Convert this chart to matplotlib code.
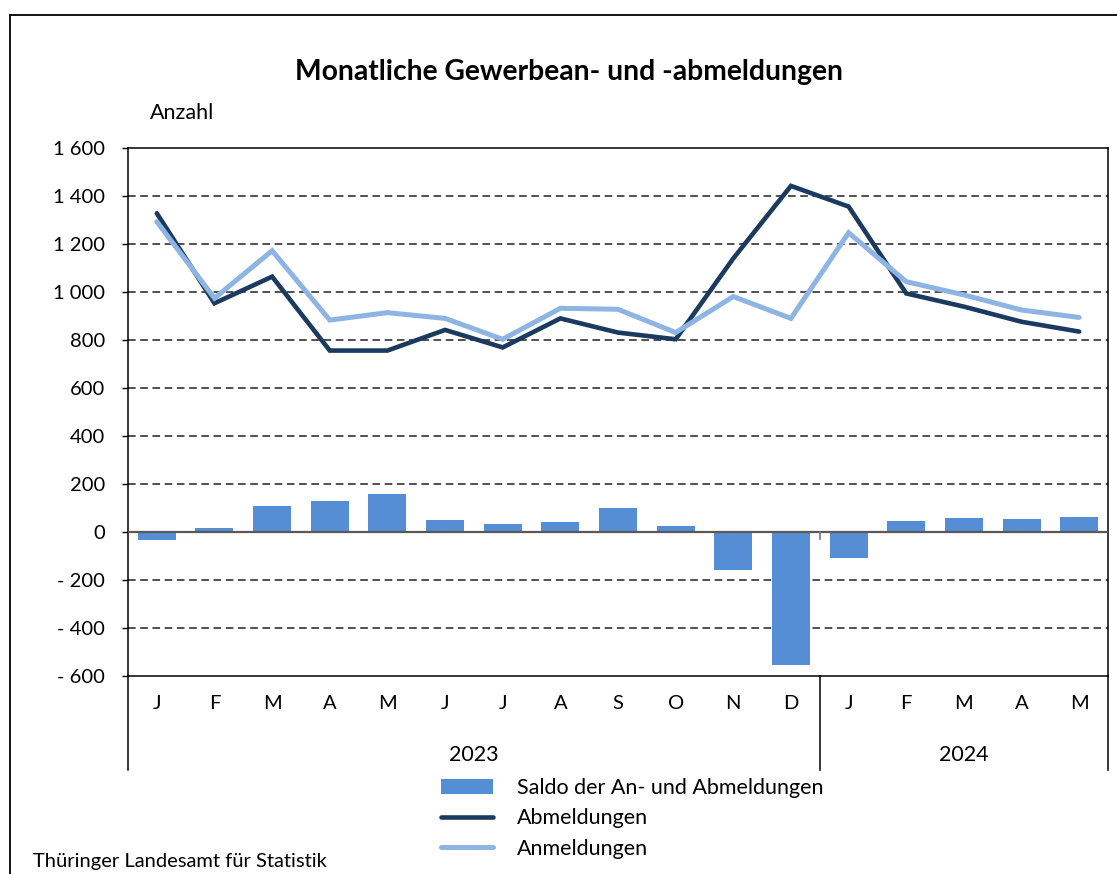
import matplotlib
matplotlib.use("Agg")
import matplotlib.pyplot as plt
from matplotlib.ticker import FixedLocator, FuncFormatter
from matplotlib.patches import Patch
from matplotlib.lines import Line2D
import matplotlib.transforms as mtrans

plt.rcParams['font.family'] = ['Lato', 'DejaVu Sans']

months = ["J", "F", "M", "A", "M", "J", "J", "A", "S", "O", "N", "D",
          "J", "F", "M", "A", "M"]
years = ["2023", "2024"]
months_per_year = [12, 5]

abmeldungen = [1328, 953, 1064, 756, 756, 842, 769, 890, 831, 803, 1140, 1442,
               1356, 994, 939, 876, 835]
anmeldungen = [1293, 974, 1172, 883, 914, 890, 803, 932, 928, 831, 981, 890,
               1247, 1043, 988, 925, 894]
saldo = [-35, 15, 108, 128, 158, 49, 32, 40, 101, 25, -160, -553,
         -110, 47, 57, 53, 61]

title = "Monatliche Gewerbean- und -abmeldungen"
y_label = "Anzahl"
source = "Thüringer Landesamt für Statistik"
legend_labels = ["Saldo der An- und Abmeldungen", "Abmeldungen", "Anmeldungen"]

c_bar = "#558ED5"
c_ab = "#1B3A5F"
c_an = "#8DB4E2"

W, H = 1117, 874
fig = plt.figure(figsize=(W / 100, H / 100), dpi=100)

# outer frame
fig.add_artist(Line2D([10 / W, 10 / W], [0, 1 - 15 / H], transform=fig.transFigure,
                      color="black", lw=1.3))
fig.add_artist(Line2D([10 / W, 1], [1 - 15 / H, 1 - 15 / H], transform=fig.transFigure,
                      color="black", lw=1.3))

x0, x1, ytop, ybot = 128, 1108, 148, 676
ax = fig.add_axes([x0 / W, 1 - ybot / H, (x1 - x0) / W, (ybot - ytop) / H])

x = list(range(len(months)))
ax.bar(x, saldo, width=0.66, color=c_bar, zorder=2)
ax.axhline(0, color="#595959", lw=1.6, zorder=3)
ax.plot(x, abmeldungen, color=c_ab, lw=3.3, zorder=4, solid_capstyle="round", solid_joinstyle="miter")
ax.plot(x, anmeldungen, color=c_an, lw=3.6, zorder=5, solid_capstyle="round", solid_joinstyle="miter")

ax.set_xlim(-0.5, len(months) - 0.5)
ax.set_ylim(-600, 1600)
yt = list(range(-600, 1601, 200))
ax.yaxis.set_major_locator(FixedLocator(yt))


def fmt(v, pos):
    v = int(round(v))
    s = f"{abs(v):,}".replace(",", " ")
    return ("- " + s) if v < 0 else s


ax.yaxis.set_major_formatter(FuncFormatter(fmt))
for v in yt:
    if v not in (-600, 0, 1600):
        ax.axhline(v, color="#222222", lw=1.1, ls=(0, (5, 3)), zorder=1)

ax.tick_params(axis="y", direction="out", length=4.5, width=1, pad=12, labelsize=14.5)
ax.set_xticks(x)
ax.set_xticklabels(months)
ax.tick_params(axis="x", length=0, pad=14, labelsize=14.5)
for sp in ax.spines.values():
    sp.set_color("black")
    sp.set_linewidth(1.1)

# year separators and labels below axis
tr = mtrans.blended_transform_factory(ax.transData, ax.transAxes)
ext = -(770 - ybot) / (ybot - ytop)
bounds = [-0.5]
for n in months_per_year:
    bounds.append(bounds[-1] + n)
for b in bounds:
    ax.add_line(Line2D([b, b], [0, ext], transform=tr, color="black", lw=1.1, clip_on=False))
yl = -(755 - ybot) / (ybot - ytop)
for i, yr in enumerate(years):
    ax.text((bounds[i] + bounds[i + 1]) / 2, yl, yr, transform=tr, ha="center", va="center",
            fontsize=15.5)
# small tick at year boundary on zero line
ax.add_line(Line2D([bounds[1], bounds[1]], [0, -30], color="#777777", lw=1.2, zorder=3))

fig.text(569 / W, 1 - 72 / H, title, ha="center", va="center", fontsize=20.3, fontweight="bold")
fig.text(150 / W, 1 - 113 / H, y_label, ha="left", va="center", fontsize=15.5)
fig.text(33 / W, 1 - 862 / H, source, ha="left", va="center", fontsize=14.5)

handles = [Patch(facecolor=c_bar, edgecolor="none"),
           Line2D([], [], color=c_ab, lw=3.3, solid_capstyle="round"),
           Line2D([], [], color=c_an, lw=3.6, solid_capstyle="round")]
fig.legend(handles, legend_labels, loc="upper left", bbox_to_anchor=(441 / W, 1 - 778 / H),
           frameon=False, fontsize=15.5, borderpad=0, borderaxespad=0, handlelength=2.4,
           handleheight=0.65, handletextpad=1.15, labelspacing=0.48)

fig.savefig("out.png", dpi=100)
